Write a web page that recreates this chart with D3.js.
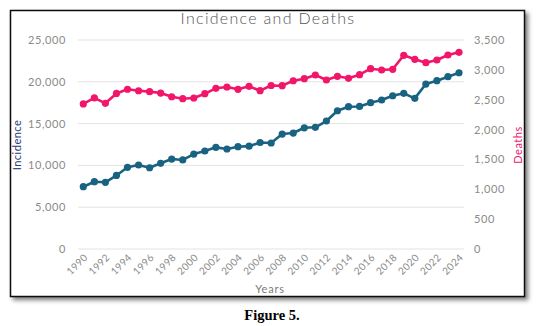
<!DOCTYPE html>
<html><head><meta charset="utf-8">
<script src="https://cdn.jsdelivr.net/npm/d3@7"></script>
<style>body{margin:0;background:#fff;}svg{display:block;}</style>
</head><body>
<script>
const years = d3.range(1990, 2025);
const incidence = [7450,8050,7980,8800,9770,10050,9720,10250,10760,10650,11360,11720,12160,11960,12240,12300,12740,12680,13750,13870,14500,14560,15310,16540,17020,17050,17500,17820,18330,18620,18020,19730,20130,20610,21080];
const deaths = [2430,2530,2440,2605,2675,2650,2635,2612,2550,2517,2529,2601,2691,2713,2674,2725,2651,2738,2735,2818,2852,2914,2830,2892,2858,2919,3019,2998,3009,3244,3177,3120,3165,3249,3294];
const leftTicks = [0,5000,10000,15000,20000,25000];
const rightTicks = [0,500,1000,1500,2000,2500,3000,3500];
const xTickYears = d3.range(1990, 2025, 2);

const W = 537, H = 326;
const svg = d3.select("body").append("svg").attr("width", W).attr("height", H);
const font = "Lato, 'Noto Sans', sans-serif";

// frame with shadow
const defs = svg.append("defs");
const f = defs.append("filter").attr("id","sh").attr("x","-5%").attr("y","-5%").attr("width","115%").attr("height","115%");
f.append("feDropShadow").attr("dx",3).attr("dy",3).attr("stdDeviation",2).attr("flood-color","#000").attr("flood-opacity",0.5);
svg.append("rect").attr("x",10.5).attr("y",10.5).attr("width",514).attr("height",286)
  .attr("fill","#fff").attr("stroke","#111").attr("stroke-width",1.5).attr("filter","url(#sh)");

const x = d3.scaleLinear().domain([1990, 2024]).range([83.3, 459]);
const yL = d3.scaleLinear().domain([0, 25000]).range([249, 40]);
const yR = d3.scaleLinear().domain([0, 3500]).range([249, 40]);

// gridlines
svg.append("g").selectAll("line").data(leftTicks).join("line")
  .attr("x1",78).attr("x2",464).attr("y1",d=>yL(d)).attr("y2",d=>yL(d))
  .attr("stroke","#e3e3e3").attr("stroke-width",1);

const fmt = d3.format(",");
svg.append("g").selectAll("text").data(leftTicks).join("text")
  .attr("x",66).attr("y",d=>yL(d)+4).attr("text-anchor","end")
  .attr("font-family",font).attr("font-size",11).attr("fill","#8a8a8a").attr("letter-spacing",0.6)
  .text(d=>fmt(d));
svg.append("g").selectAll("text").data(rightTicks).join("text")
  .attr("x",474).attr("y",d=>yR(d)+4).attr("text-anchor","start")
  .attr("font-family",font).attr("font-size",11).attr("fill","#8a8a8a").attr("letter-spacing",0.6)
  .text(d=>fmt(d));

svg.append("g").selectAll("text").data(xTickYears).join("text")
  .attr("transform",d=>`translate(${x(d)+5},${258}) rotate(-45)`)
  .attr("text-anchor","end")
  .attr("font-family",font).attr("font-size",10).attr("fill","#8a8a8a").attr("letter-spacing",0.4)
  .text(d=>d);

svg.append("text").attr("x",268).attr("y",24).attr("text-anchor","middle")
  .attr("font-family",font).attr("font-weight",300).attr("font-size",16).attr("fill","#555").attr("letter-spacing",1.3)
  .text("Incidence and Deaths");
svg.append("text").attr("transform","translate(21,145) rotate(-90)").attr("text-anchor","middle")
  .attr("font-family",font).attr("font-size",11).attr("fill","#2b3a7a").attr("letter-spacing",0.5)
  .text("Incidence");
svg.append("text").attr("transform","translate(522,145) rotate(-90)").attr("text-anchor","middle")
  .attr("font-family",font).attr("font-size",11).attr("fill","#e8206e").attr("letter-spacing",0.5)
  .text("Deaths");
svg.append("text").attr("x",270).attr("y",293).attr("text-anchor","middle")
  .attr("font-family",font).attr("font-size",11).attr("fill","#7a7a7a").attr("letter-spacing",0.8)
  .text("Years");

function drawSeries(vals, y, color) {
  const data = years.map((yr,i)=>({yr, v: vals[i]}));
  svg.append("path").datum(data)
    .attr("fill","none").attr("stroke",color).attr("stroke-width",2.6).attr("stroke-linejoin","round")
    .attr("d", d3.line().x(d=>x(d.yr)).y(d=>y(d.v)));
  svg.append("g").selectAll("circle").data(data).join("circle")
    .attr("cx",d=>x(d.yr)).attr("cy",d=>y(d.v)).attr("r",3.6).attr("fill",color);
}
drawSeries(deaths, yR, "#f2166a");
drawSeries(incidence, yL, "#196282");

svg.append("text").attr("x",272).attr("y",320).attr("text-anchor","middle")
  .attr("font-family","'Liberation Serif', 'Times New Roman', serif").attr("font-weight","bold")
  .attr("font-size",14.5).attr("fill","#000").text("Figure 5.");
</script>
</body></html>
